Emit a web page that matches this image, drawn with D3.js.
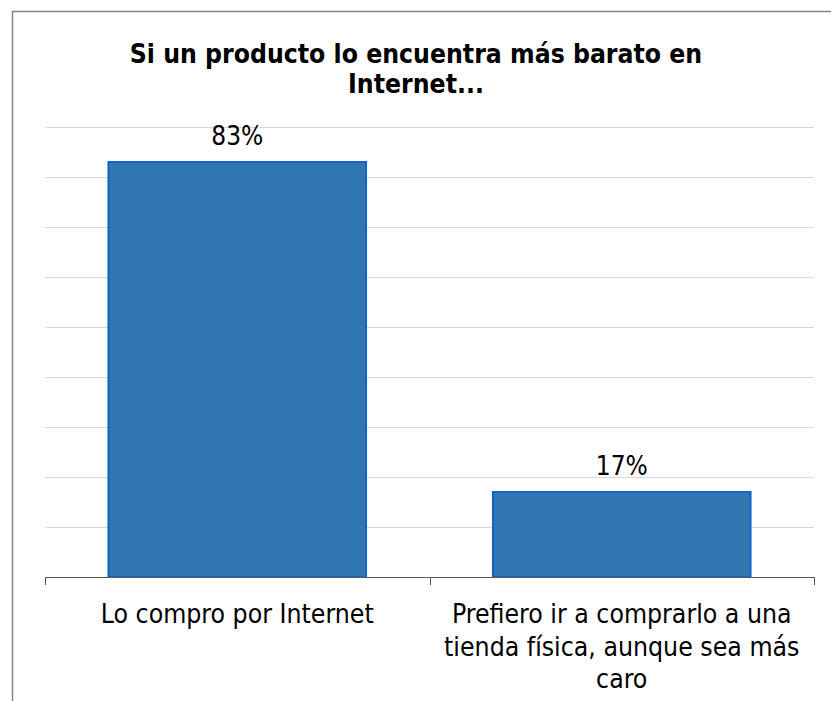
<!DOCTYPE html>
<html>
<head>
<meta charset="utf-8">
<script src="https://cdn.jsdelivr.net/npm/d3@7"></script>
<style>
  html, body { margin: 0; padding: 0; background: #fff; }
  svg { display: block; }
</style>
</head>
<body>
<svg id="chart" width="831" height="701"></svg>
<script>
const titleLines = ["Si un producto lo encuentra más barato en", "Internet..."];
const categories = ["Lo compro por Internet", "Prefiero ir a comprarlo a una tienda física, aunque sea más caro"];
const categoryLines = [
  ["Lo compro por Internet"],
  ["Prefiero ir a comprarlo a una", "tienda física, aunque sea más", "caro"]
];
const values = [0.83, 0.17];
const valueLabels = ["83%", "17%"];
const yTicks = [0.1, 0.2, 0.3, 0.4, 0.5, 0.6, 0.7, 0.8, 0.9];

const FONT = "'DejaVu Sans Condensed', 'DejaVu Sans', sans-serif";
const svg = d3.select("#chart");

// outer chart border (extends beyond window at right/bottom)
svg.append("rect")
  .attr("x", 12.5).attr("y", 11.5)
  .attr("width", 840).attr("height", 720)
  .attr("fill", "#fff")
  .attr("stroke", "#868686").attr("stroke-width", 1.5);

const x = d3.scaleBand()
  .domain(categories)
  .range([45, 814])
  .paddingInner(0.33)
  .paddingOuter(0.165);

const y = d3.scaleLinear().domain([0, 0.9]).range([577, 127]);

// gridlines
svg.append("g")
  .selectAll("line")
  .data(yTicks)
  .join("line")
  .attr("x1", 45).attr("x2", 814)
  .attr("y1", d => Math.round(y(d)) + 0.5)
  .attr("y2", d => Math.round(y(d)) + 0.5)
  .attr("stroke", "#d9d9d9").attr("stroke-width", 1);

// bars
svg.append("g")
  .selectAll("rect")
  .data(values)
  .join("rect")
  .attr("x", (d, i) => x(categories[i]))
  .attr("y", d => y(d))
  .attr("width", x.bandwidth())
  .attr("height", d => y(0) - y(d))
  .attr("fill", "#3076B1")
  .attr("stroke", "#0F66C8")
  .attr("stroke-width", 2);

// x axis with category boundary ticks
const x0 = x.range()[0], x1 = x.range()[1];
const bounds = d3.range(categories.length + 1).map(i => x0 + i * (x1 - x0) / categories.length);
const ax = svg.append("g");
ax.append("line")
  .attr("x1", x0).attr("x2", x1)
  .attr("y1", y(0) + 0.5).attr("y2", y(0) + 0.5)
  .attr("stroke", "#595959").attr("stroke-width", 1);
ax.selectAll("line.tick")
  .data(bounds)
  .join("line")
  .attr("class", "tick")
  .attr("x1", d => Math.round(d) + 0.5).attr("x2", d => Math.round(d) + 0.5)
  .attr("y1", y(0)).attr("y2", y(0) + 8)
  .attr("stroke", "#595959").attr("stroke-width", 1);

// value labels
svg.append("g")
  .selectAll("text")
  .data(values)
  .join("text")
  .attr("x", (d, i) => x(categories[i]) + x.bandwidth() / 2)
  .attr("y", d => y(d) - 17)
  .attr("text-anchor", "middle")
  .attr("font-family", FONT)
  .attr("font-size", 26)
  .attr("fill", "#000")
  .text((d, i) => valueLabels[i]);

// category labels
categoryLines.forEach((lines, i) => {
  const cx = x(categories[i]) + x.bandwidth() / 2;
  const t = svg.append("text")
    .attr("text-anchor", "middle")
    .attr("font-family", FONT)
    .attr("font-size", 26.4)
    .attr("fill", "#000");
  lines.forEach((ln, j) => {
    t.append("tspan").attr("x", cx).attr("y", 623 + j * 32.5).text(ln);
  });
});

// title
const tt = svg.append("text")
  .attr("text-anchor", "middle")
  .attr("font-family", FONT)
  .attr("font-weight", "bold")
  .attr("font-size", 26.3)
  .attr("fill", "#000");
titleLines.forEach((ln, j) => {
  tt.append("tspan").attr("x", 416).attr("y", 63 + j * 30).text(ln);
});
</script>
</body>
</html>
